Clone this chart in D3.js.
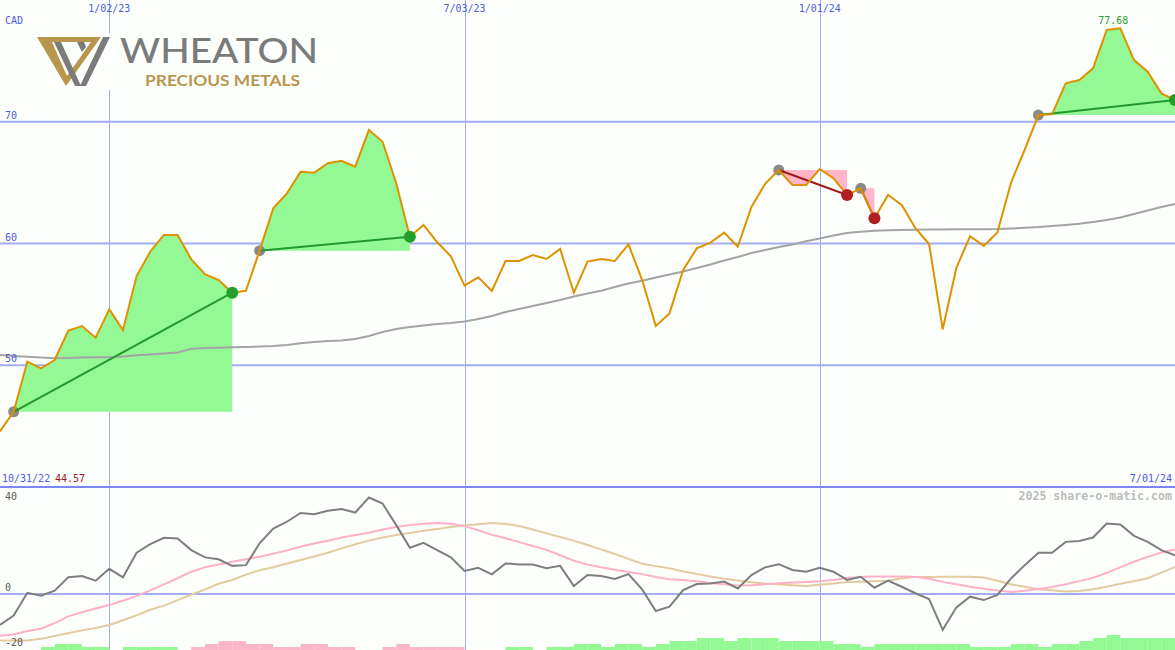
<!DOCTYPE html>
<html><head><meta charset="utf-8">
<script src="https://cdn.jsdelivr.net/npm/d3@7/dist/d3.min.js"></script>
<style>html,body{margin:0;padding:0;background:#fcfffc;overflow:hidden}</style>
</head><body><svg id="c" width="1175" height="650"></svg>
<script>
// ---------- data ----------
const startDate = "2022-11-07";
const price = [44.57,46.18,50.29,49.75,50.43,52.84,53.22,52.26,54.59,52.89,
  57.33,59.33,60.70,60.70,58.70,57.49,57.00,55.96,56.12,59.41,
  62.89,64.12,65.90,65.82,66.59,66.80,66.31,69.32,68.36,64.94,
  60.56,61.52,60.10,58.95,56.54,57.22,56.10,58.56,58.56,59.05,
  58.73,59.55,55.96,58.51,58.73,58.56,59.93,57.00,53.22,54.26,
  57.82,59.60,60.07,60.89,59.74,63.00,64.90,66.04,64.80,64.80,
  66.12,65.35,63.98,64.53,62.07,63.98,63.16,61.25,59.96,52.95,
  58.00,60.60,59.80,60.90,65.00,67.70,70.55,70.61,73.16,73.43,
  74.39,77.54,77.68,75.07,74.11,72.33,71.79];
const movingAvg = [50.84,50.76,50.70,50.64,50.57,50.60,50.64,50.65,50.65,50.72,
  50.82,50.88,50.96,51.05,51.36,51.42,51.44,51.47,51.50,51.54,
  51.58,51.66,51.80,51.91,51.99,52.03,52.16,52.40,52.73,52.98,
  53.14,53.26,53.39,53.47,53.59,53.80,54.04,54.37,54.62,54.87,
  55.11,55.36,55.65,55.89,56.12,56.43,56.71,56.94,57.21,57.45,
  57.70,57.99,58.28,58.60,58.89,59.22,59.47,59.71,59.92,60.18,
  60.41,60.66,60.86,60.97,61.05,61.09,61.11,61.12,61.14,61.16,
  61.17,61.17,61.18,61.19,61.23,61.29,61.35,61.44,61.52,61.62,
  61.77,61.93,62.14,62.42,62.71,63.00,63.24];
const oscillator = [-12.8,-8.9,0.5,-0.7,1.4,6.9,7.4,5.5,10.4,6.9,
  17.0,20.6,23.2,22.9,18.1,15.1,14.3,11.6,11.9,20.9,
  27.0,29.8,33.4,32.9,34.3,35.0,33.6,39.8,37.3,28.4,
  19.1,21.1,18.1,15.1,9.5,10.8,8.1,12.6,12.2,12.2,
  10.6,11.6,3.3,7.8,7.4,6.2,8.2,1.9,-7.0,-5.2,
  1.6,4.1,4.3,5.1,2.3,7.8,11.0,12.3,9.9,9.2,
  10.8,9.2,5.8,7.1,2.6,5.5,3.0,0.3,-2.1,-14.8,
  -5.5,-1.1,-2.5,-0.4,6.4,11.9,17.0,17.0,21.5,21.9,
  23.3,29.1,28.7,24.0,21.5,18.1,16.0];
const signalFast = [-17.2,-16.7,-15.3,-14.3,-12.0,-9.2,-7.5,-6.0,-4.5,-2.8,
  -0.8,1.5,4.0,6.5,9.2,11.0,12.2,13.3,14.3,15.4,
  16.6,18.0,19.5,20.8,22.0,23.3,24.3,25.3,26.6,27.6,
  28.4,29.0,29.3,29.0,28.0,26.3,24.4,23.0,21.4,19.8,
  18.2,16.0,13.7,12.2,11.0,10.0,9.1,8.2,7.0,6.1,
  5.8,5.3,4.5,4.0,3.5,3.6,4.0,4.4,4.7,4.9,
  5.3,5.8,6.6,7.0,7.2,7.2,7.2,7.0,6.3,5.0,
  4.0,3.0,2.2,1.4,0.8,1.3,2.1,2.9,4.0,5.3,
  6.7,8.7,11.0,13.3,15.3,17.1,18.4];
const signalSlow = [-19.2,-19.2,-19.2,-18.5,-17.3,-16.2,-15.0,-14.0,-12.8,-10.8,
  -8.8,-6.5,-4.8,-2.5,-0.3,1.8,4.2,5.8,8.0,9.8,
  11.0,12.6,14.0,15.5,17.0,18.8,20.5,22.0,23.3,24.3,
  25.2,26.1,26.8,27.6,28.3,28.8,29.3,28.9,28.0,26.6,
  25.0,23.5,22.0,20.2,18.4,16.5,14.5,12.5,11.5,10.6,
  9.3,8.3,7.2,6.3,5.6,4.8,4.3,4.0,3.6,3.3,
  3.8,4.3,4.9,5.1,5.3,5.5,6.5,7.0,7.0,7.1,
  7.1,7.1,6.8,5.5,4.0,3.0,2.0,1.5,1.0,1.2,
  2.0,3.0,4.2,5.3,6.5,8.8,11.2];
const histogram = [0,0,0,1,2,2,1,1,0,1,
  1,1,1,0,-1,-2,-3,-3,-2,-2,
  -1,-1,-2,-2,-1,-1,0,0,-1,-2,
  -1,-1,-1,-1,0,0,0,1,1,0,
  1,1,2,2,1,2,2,1,2,3,
  3,4,4,3,4,4,4,3,3,3,
  3,2,2,1,2,2,2,2,2,2,
  2,1,1,1,2,2,1,2,2,3,
  4,5,4,4,4,4,4];
const trends = [[1,17],[19,30],[57,62],[63,64],[76,86]];
const mainTicks = [50,60,70];
const lowerTicks = [40,0,-20];
const dateTicks = ["2023-01-02","2023-07-03","2024-01-01"];
const dateTickLabels = ["1/02/23","7/03/23","1/01/24"];
const rangeStartLabel = "10/31/22";
const rangeEndLabel = "7/01/24";
const minLabel = "44.57";
const currency = "CAD";
const watermark = "2025 share-o-matic.com";

// ---------- setup ----------
const W = 1175, H = 650;
const svg = d3.select("#c");
const parse = d3.utcParse("%Y-%m-%d");
const t0 = parse(startDate);
const dates = price.map((_, i) => d3.utcDay.offset(t0, 7 * i));
const x = d3.scaleUtc().domain([dates[0], dates[dates.length - 1]]).range([0, W]);
const yMain = d3.scaleLinear().domain([40, 80]).range([487, 0]);
const yLow = d3.scaleLinear().domain([-20, 40]).range([642.5, 497]);
const hScale = d3.scaleLinear().domain([0, 5]).range([0, 15]);
const mono = "'DejaVu Sans Mono', monospace";
const gridC = "#a2aef2";

svg.append("rect").attr("width", W).attr("height", H).attr("fill", "#fcfffc");

// vertical grid
svg.selectAll(".vg").data(dateTicks).enter().append("line")
  .attr("x1", d => Math.round(x(parse(d))) + 0.5).attr("x2", d => Math.round(x(parse(d))) + 0.5)
  .attr("y1", 0).attr("y2", H).attr("stroke", gridC).attr("stroke-width", 1);
// horizontal grid main
svg.selectAll(".hg").data(mainTicks).enter().append("line")
  .attr("x1", 0).attr("x2", W).attr("y1", d => yMain(d)).attr("y2", d => yMain(d))
  .attr("stroke", gridC).attr("stroke-width", 2);
// lower zero line
svg.append("line").attr("x1", 0).attr("x2", W).attr("y1", yLow(0)).attr("y2", yLow(0))
  .attr("stroke", gridC).attr("stroke-width", 2);
// divider
svg.append("line").attr("x1", 0).attr("x2", W).attr("y1", 487).attr("y2", 487)
  .attr("stroke", "#7c88f0").attr("stroke-width", 2);

// trend fills
trends.forEach(([s, e]) => {
  const up = price[e] >= price[s];
  const idx = d3.range(s, e + 1);
  const area = d3.area().x(i => x(dates[i])).y0(yMain(price[s])).y1(i => yMain(price[i]));
  svg.append("path").attr("d", area(idx)).attr("fill", up ? "#94f994" : "#ffb6c8");
});

// moving average
const lineMain = arr => d3.line().x((d, i) => x(dates[i])).y(d => yMain(d))(arr);
svg.append("path").attr("d", lineMain(movingAvg)).attr("fill", "none")
  .attr("stroke", "#a4a4a4").attr("stroke-width", 2);

// trend start dots
trends.forEach(([s, e]) => {
  svg.append("circle").attr("cx", x(dates[s])).attr("cy", yMain(price[s])).attr("r", 5.5).attr("fill", "#8a8a8a");
});
// trend lines
trends.forEach(([s, e]) => {
  const up = price[e] >= price[s];
  svg.append("line").attr("x1", x(dates[s])).attr("y1", yMain(price[s]))
    .attr("x2", x(dates[e])).attr("y2", yMain(price[e]))
    .attr("stroke", up ? "#23992b" : "#a01c1c").attr("stroke-width", 2);
});
// price line
svg.append("path").attr("d", lineMain(price)).attr("fill", "none")
  .attr("stroke", "#df9200").attr("stroke-width", 2).attr("stroke-linejoin", "miter");
// end dots
trends.forEach(([s, e]) => {
  const up = price[e] >= price[s];
  svg.append("circle").attr("cx", x(dates[e])).attr("cy", yMain(price[e])).attr("r", 6)
    .attr("fill", up ? "#23a02b" : "#b02020");
});

// max label
const iMax = d3.maxIndex(price);
svg.append("text").attr("x", x(dates[iMax]) - 7).attr("y", yMain(price[iMax]) - 4)
  .attr("text-anchor", "middle").attr("font-family", mono).attr("font-size", 10)
  .attr("fill", "#2a9a2a").text(price[iMax].toFixed(2));

// ---------- lower panel ----------
const lineLow = arr => d3.line().x((d, i) => x(dates[i])).y(d => yLow(d))(arr);
svg.append("path").attr("d", lineLow(signalSlow)).attr("fill", "none").attr("stroke", "#e2cba0").attr("stroke-width", 2);
svg.append("path").attr("d", lineLow(signalFast)).attr("fill", "none").attr("stroke", "#ffb0c8").attr("stroke-width", 2);
svg.append("path").attr("d", lineLow(oscillator)).attr("fill", "none").attr("stroke", "#7e7e7e").attr("stroke-width", 2);

// histogram bars
svg.selectAll(".hb").data(histogram.map((v, i) => ({v, i})).filter(d => d.v !== 0 && d.i < dates.length - 1))
  .enter().append("rect")
  .attr("x", d => x(dates[d.i])).attr("width", d => x(dates[d.i + 1]) - x(dates[d.i]))
  .attr("y", d => H - hScale(Math.abs(d.v))).attr("height", d => hScale(Math.abs(d.v)))
  .attr("fill", d => d.v > 0 ? "#94f994" : "#fbb6cb");

// ---------- labels ----------
svg.selectAll(".dl").data(dateTicks).enter().append("text")
  .attr("x", (d) => x(parse(d))).attr("y", 12).attr("text-anchor", "middle")
  .attr("font-family", mono).attr("font-size", 10).attr("fill", "#4c5ce8")
  .text((d, i) => dateTickLabels[i]);
svg.append("text").attr("x", 5).attr("y", 24).attr("font-family", mono).attr("font-size", 10)
  .attr("fill", "#4c5ce8").text(currency);
svg.selectAll(".ml").data(mainTicks).enter().append("text")
  .attr("x", 5).attr("y", d => yMain(d) - 3).attr("font-family", mono).attr("font-size", 10)
  .attr("fill", "#4c5ce8").text(d => d);
svg.selectAll(".ll").data(lowerTicks).enter().append("text")
  .attr("x", 5).attr("y", d => d === 0 ? yLow(d) - 3 : yLow(d) + 3).attr("font-family", mono).attr("font-size", 10)
  .attr("fill", "#5a5a5a").text(d => d);
svg.append("text").attr("x", 2).attr("y", 482).attr("font-family", mono).attr("font-size", 10)
  .attr("fill", "#4c5ce8").text(rangeStartLabel);
svg.append("text").attr("x", 55).attr("y", 482).attr("font-family", mono).attr("font-size", 10)
  .attr("fill", "#a01818").text(minLabel);
svg.append("text").attr("x", 1172).attr("y", 482).attr("text-anchor", "end").attr("font-family", mono).attr("font-size", 10)
  .attr("fill", "#4c5ce8").text(rangeEndLabel);
svg.append("text").attr("x", 1172).attr("y", 500).attr("text-anchor", "end").attr("font-family", mono)
  .attr("font-size", 11.6).attr("font-weight", "bold").attr("fill", "#bcbcbc").text(watermark);

// ---------- logo ----------
const logo = svg.append("g");
logo.append("rect").attr("x", 33).attr("y", 33).attr("width", 290).attr("height", 57).attr("fill", "#fcfffc");
logo.append("path").attr("fill", "#b8964e").attr("fill-rule", "evenodd")
  .attr("d", "M37,37 L101,37 L66,86 Z M52,42 L91,42 L67,76 Z");
logo.append("path").attr("fill", "#7b7b7b")
  .attr("d", "M54,42 L61,42 L81,86 L75,86 Z M103,37 L110,37 L86,86 L80,86 Z M77,42 L84,42 L86,47 L82,52 Z");
logo.append("text").attr("x", 120).attr("y", 63).attr("font-family", "Lato, 'Open Sans', sans-serif")
  .attr("font-size", 34).attr("font-weight", 500).attr("fill", "#7b7b7b")
  .attr("textLength", 198).attr("lengthAdjust", "spacingAndGlyphs").text("WHEATON");
logo.append("text").attr("x", 145).attr("y", 86).attr("font-family", "Lato, 'Open Sans', sans-serif")
  .attr("font-size", 14.5).attr("font-weight", 700).attr("fill", "#b8964e")
  .attr("textLength", 155).attr("lengthAdjust", "spacingAndGlyphs").text("PRECIOUS METALS");
</script></body></html>
